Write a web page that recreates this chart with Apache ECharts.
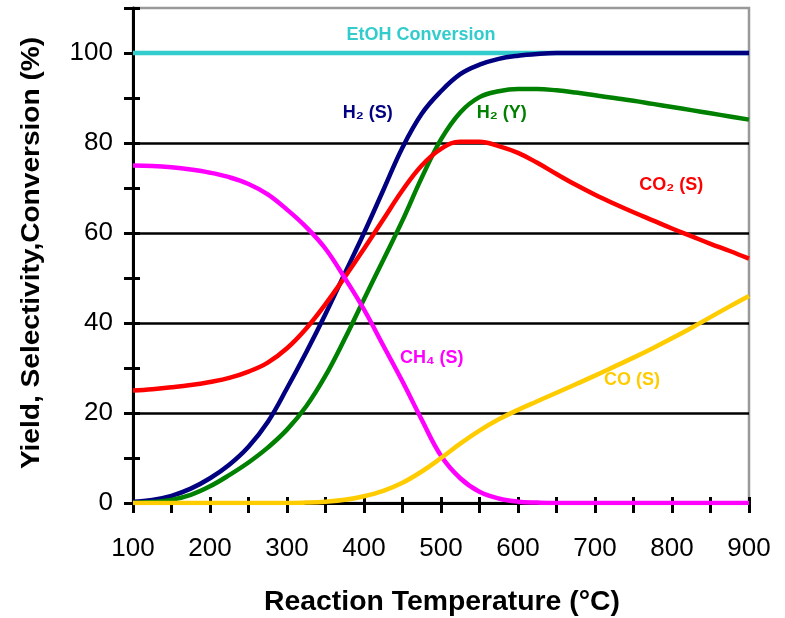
<!DOCTYPE html>
<html>
<head>
<meta charset="utf-8">
<script src="https://cdn.jsdelivr.net/npm/echarts@6/dist/echarts.min.js"></script>
<style>html,body{margin:0;padding:0;background:#fff;}#c{width:785px;height:618px;}</style>
</head>
<body>
<div id="c"></div>
<script>
// Reaction temperature (°C)
const temps = [100,125,150,175,200,225,250,275,300,325,350,375,400,425,450,475,500,525,550,575,600,625,650,675,700,725,750,775,800,825,850,875,900];
// EtOH conversion (%)
const etohConv = [100,100,100,100,100,100,100,100,100,100,100,100,100,100,100,100,100,100,100,100,100,100,100,100,100,100,100,100,100,100,100,100,100];
// H2 selectivity (%)
const h2S = [0.3,0.7,1.6,3.2,5.5,8.5,12.5,18,25.5,33.5,42,51,60,69.5,79,86.5,91.5,95.3,97.4,98.7,99.4,99.8,100,100,100,100,100,100,100,100,100,100,100];
// H2 yield (%)
const h2Y = [0,0.2,0.7,1.8,3.7,6.2,9,12.3,16.3,21.5,28.3,36.5,45.3,54,62.8,72.3,80.8,86.8,90.2,91.5,92,92,91.7,91.2,90.6,90,89.4,88.7,88,87.3,86.6,85.9,85.2];
// CO2 selectivity (%)
const co2S = [25,25.3,25.7,26.2,26.9,27.8,29.2,31.2,34.4,38.8,44.2,50.2,56.5,63,69.5,75,78.7,80.3,80.3,79.3,77.8,75.6,73.1,70.7,68.5,66.5,64.6,62.8,61,59.3,57.6,56,54.3];
// CH4 selectivity (%)
const ch4S = [75,74.9,74.6,74.1,73.4,72.4,70.9,68.6,65.2,61.3,56.5,50,43,35,27,18.5,10.5,5.5,2.5,1,0.3,0.1,0,0,0,0,0,0,0,0,0,0,0];
// CO selectivity (%)
const coS = [0,0,0,0,0,0,0,0,0,0.1,0.3,0.7,1.5,2.7,4.5,7,10,13.2,16.1,18.6,20.7,22.6,24.5,26.4,28.3,30.3,32.3,34.4,36.6,38.9,41.3,43.7,46];

const seriesNames = ['EtOH Conversion','H₂ (S)','H₂ (Y)','CO₂ (S)','CH₄ (S)','CO (S)'];
const seriesColors = ['#33CCCC','#000080','#008000','#FF0000','#FF00FF','#FFCC00'];
const seriesValues = [etohConv,h2S,h2Y,co2S,ch4S,coS];
// label anchor positions [temperature, value]
const labelPos = [[474,104],[405,86.7],[579,86.7],[799,70.7],[488,32.2],[748,27.3]];

const xTicks = [100,200,300,400,500,600,700,800,900];
const yTicks = [0,20,40,60,80,100];
const xTitle = 'Reaction Temperature (°C)';
const yTitle = 'Yield, Selectivity,Conversion (%)';

const font = 'Arial, "Liberation Sans", Helvetica, sans-serif';

const chart = echarts.init(document.getElementById('c'), null, {renderer:'canvas'});

const series = seriesValues.map((vals, i) => ({
  name: seriesNames[i],
  type: 'line',
  data: temps.map((t, j) => [t, vals[j]]),
  smooth: 0.4,
  showSymbol: false,
  symbol: 'none',
  lineStyle: { color: seriesColors[i], width: 4.5 },
  itemStyle: { color: seriesColors[i] },
  z: 3 + i,
  markPoint: {
    symbol: 'circle',
    symbolSize: 0,
    silent: true,
    label: {
      show: true,
      position: 'inside',
      formatter: seriesNames[i],
      color: seriesColors[i],
      fontFamily: font,
      fontWeight: 'bold',
      fontSize: 18
    },
    data: [{ coord: labelPos[i] }]
  }
}));

const option = {
  animation: false,
  backgroundColor: '#fff',
  grid: { left: 133, right: 36, top: 8, bottom: 115, show: true, borderColor: '#999', borderWidth: 2.5, backgroundColor: 'transparent' },
  graphic: [
    { type: 'text', x: 442, y: 603, silent: true, scaleX: 1.05,
      style: { text: xTitle, font: 'bold 27px ' + font, fill: '#000', align: 'center', verticalAlign: 'middle' } },
    { type: 'text', x: 32, y: 253, rotation: Math.PI / 2, scaleX: 1.08, silent: true,
      style: { text: yTitle, font: 'bold 26px ' + font, fill: '#000', align: 'center', verticalAlign: 'middle' } }
  ],
  xAxis: [
    {
      type: 'value', min: 100, max: 900, interval: 50,
      axisLine: { show: true, onZero: false, lineStyle: { color: '#000', width: 3 } },
      axisTick: { show: true, length: 10, lineStyle: { color: '#000', width: 3 } },
      axisLabel: { fontFamily: font, fontSize: 26, color: '#000', margin: 33,
        formatter: v => xTicks.indexOf(v) >= 0 ? String(v) : '' },
      splitLine: { show: false }
    },
    {
      type: 'value', min: 100, max: 900, interval: 50, position: 'bottom',
      axisLine: { show: false },
      axisTick: { show: true, inside: true, length: 6, lineStyle: { color: '#000', width: 3 } },
      axisLabel: { show: false }, splitLine: { show: false }
    }
  ],
  yAxis: [
    {
      type: 'value', min: 0, max: 110, interval: 10,
      axisLine: { show: true, onZero: false, lineStyle: { color: '#000', width: 3 } },
      axisTick: { show: true, length: 9, lineStyle: { color: '#000', width: 3 } },
      axisLabel: { fontFamily: font, fontSize: 26, color: '#000', margin: 20,
        formatter: v => yTicks.indexOf(v) >= 0 ? String(v) : '' },
      splitLine: { show: false }
    },
    {
      type: 'value', min: 0, max: 110, interval: 10, position: 'left',
      axisLine: { show: false },
      axisTick: { show: true, inside: true, length: 7, lineStyle: { color: '#000', width: 3 } },
      axisLabel: { show: false }, splitLine: { show: false }
    },
    {
      type: 'value', min: 0, max: 110, interval: 20, position: 'left',
      axisLine: { show: false }, axisTick: { show: false }, axisLabel: { show: false },
      splitLine: { show: true, showMinLine: false, showMaxLine: false, lineStyle: { color: '#000', width: 2.5 } }
    }
  ],
  series: series
};
chart.setOption(option);
</script>
</body>
</html>
